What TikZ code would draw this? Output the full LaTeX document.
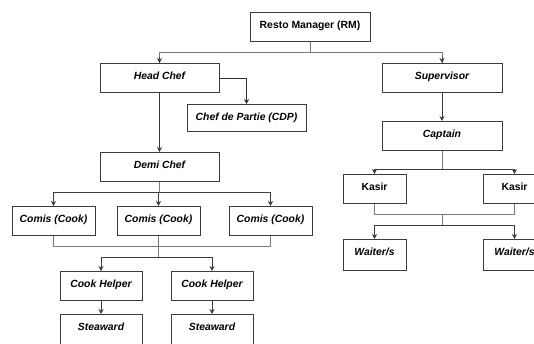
\documentclass[tikz,border=0pt]{standalone}
\usepackage{fontspec}
\setmainfont{Liberation Sans}
\usetikzlibrary{arrows.meta,positioning}
\definecolor{boxgray}{RGB}{60,60,60}
\definecolor{linegray}{RGB}{120,120,120}

\begin{document}
\begin{tikzpicture}[x=1pt, y=-1pt, >={Stealth[length=5pt,width=5pt]},
	box/.style={draw=boxgray, line width=0.9pt, inner sep=0pt, text height=16pt, text depth=13pt,
		font=\fontsize{10.4}{12}\selectfont\bfseries\itshape, anchor=north},
	plainbox/.style={box, font=\fontsize{10.4}{12}\selectfont\bfseries},
	longbox/.style={box, text depth=35pt},
	orgLine/.style={line width=0.9pt, color=linegray},
	orgArrow/.style={orgLine, ->, color=boxgray}
	]
	\clip (0,0) rectangle (534,343);
	\fill[white] (0,0) rectangle (534,343);
	% top
	\node[plainbox, minimum width=120pt] (rm) at (310,12) {Resto Manager (RM)};
	\node[box, minimum width=119pt] (head) at (159.5,63) {Head Chef};
	\node[box, minimum width=120pt] (sup) at (442,63) {Supervisor};
	\node[box, minimum width=119pt, text depth=11pt] (cdp) at (246.5,104) {Chef de Partie (CDP)};
	\node[box, minimum width=119pt] (demi) at (159.5,152) {Demi Chef};
	\node[box, minimum width=120pt] (capt) at (442,121) {Captain};
	% kitchen
	\node[box, minimum width=83pt] (comis1) at (53.5,206) {Comis (Cook)};
	\node[box, minimum width=83pt] (comis2) at (158.5,206) {Comis (Cook)};
	\node[box, minimum width=83pt] (comis3) at (270.5,206) {Comis (Cook)};
	\node[box, minimum width=82pt] (helper1) at (101,271) {Cook Helper};
	\node[box, minimum width=82pt] (helper2) at (212,271) {Cook Helper};
	\node[longbox, minimum width=82pt] (stew1) at (101,314) {Steaward};
	\node[longbox, minimum width=82pt] (stew2) at (212,314) {Steaward};
	% service
	\node[plainbox, minimum width=63pt] (kasir1) at (374.5,174) {Kasir};
	\node[plainbox, minimum width=63pt] (kasir2) at (514.5,174) {Kasir};
	\node[box, minimum width=63pt, text depth=15pt] (waiter1) at (374.5,239) {Waiter/s};
	\node[box, minimum width=63pt, text depth=15pt] (waiter2) at (514.5,239) {Waiter/s};

	\draw[orgLine] (rm.south) -- ++(0,11) coordinate (rmj);
	\draw[orgLine] (rmj) -| (head.north);
	\draw[orgLine] (rmj) -| (sup.north);
	\draw[orgArrow] (head.north)++(0,-6) -- (head.north);
	\draw[orgArrow] (sup.north)++(0,-6) -- (sup.north);
	\draw[orgArrow, color=black!80] (head.east) -| (cdp.north);
	\draw[orgArrow] (head.south) -- (demi.south |- demi.north);
	\draw[orgArrow] (sup.south) -- (capt.north);

	\draw[orgLine] (demi.south) -- ++(0,11) coordinate (demij);
	\foreach \c in {comis1,comis2,comis3}
		\draw[orgArrow] (demij) -| (\c.north);
	\draw[orgLine] (comis1.south) -- ++(0,11) -| (comis3.south);
	\draw[orgLine] (comis2.south) -- ++(0,22) coordinate (comisj);
	\foreach \c in {helper1,helper2}
		\draw[orgArrow] (comisj) -| (\c.north);
	\draw[orgArrow] (helper1.south) -- (stew1.north);
	\draw[orgArrow] (helper2.south) -- (stew2.north);

	\draw[orgLine] (capt.south) -- ++(0,19) coordinate (captj);
	\foreach \k in {kasir1,kasir2}
		\draw[orgArrow] (captj) -| (\k.north);
	\draw[orgLine] (kasir1.south) -- ++(0,11) -| (kasir2.south);
	\draw[orgLine] (captj |- kasir1.south) ++(0,11) -- ++(0,11) coordinate (kasirj);
	\foreach \w in {waiter1,waiter2}
		\draw[orgArrow] (kasirj) -| (\w.north);
\end{tikzpicture}
\end{document}
